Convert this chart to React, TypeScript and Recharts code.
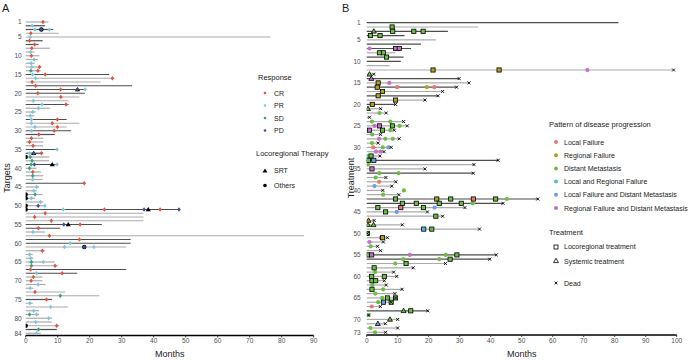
import React from "react";
import { ScatterChart, Scatter, XAxis, YAxis, ReferenceLine } from "recharts";

// ---------- Panel A: targets ----------
// months of follow-up per target (rows 1..84)
const targetEnd = [
  7.1, 6.0, 8.6, 10.3, 76.5, 5.3, 4.0, 7.6, 2.7, 4.3,
  3.8, 2.8, 4.9, 4.7, 26.1, 27.4, 23.4, 33.2, 18.6, 18.5,
  16.8, 13.4, 13.4, 7.6, 3.1, 2.7, 12.8, 16.8, 12.8, 14.2,
  9.1, 5.5, 5.5, 5.5, 9.8, 5.5, 7.4, 7.3, 9.8, 3.4,
  4.8, 5.5, 5.3, 18.3, 4.2, 3.5, 5.3, 2.9, 5.5, 6.0,
  47.9, 36.8, 36.8, 36.8, 23.8, 10.8, 6.0, 87, 32.8, 32.8,
  31.4, 6.1, 2.2, 2.4, 9.1, 10.2, 31.4, 16.1, 5.2, 5.2,
  6.2, 2.4, 12.3, 23.0, 8.2, 2.2, 13.2, 4.2, 4.2, 8.2,
  8.2, 10.5, 9.7, 4.7,
];
// targets drawn with the darker line
const groupTwoTargets = [
  2, 3, 6, 7, 15, 18, 19, 20, 23, 27, 30, 31, 35, 36, 39, 44, 51, 55, 56, 59,
  60, 67, 68, 75, 83,
];
const targetTicks = [1, 5, 10, 15, 20, 25, 30, 35, 40, 45, 50, 55, 60, 65, 70, 75, 80, 84];
const monthTicksA = [0, 10, 20, 30, 40, 50, 60, 70, 80, 90];

// [row, month]
const crPoints: [number, number][] = [
  [1, 5.4], [4, 1.6], [6, 1.2], [7, 2.8], [8, 1.9], [10, 1.8], [13, 4.3], [14, 3.8],
  [15, 6.1], [16, 27.1], [17, 2.0], [18, 3.1], [19, 10.9], [20, 3.8], [21, 11.0],
  [23, 12.6], [27, 9.9], [28, 8.3], [29, 9.9], [30, 8.9], [31, 4.1], [32, 1.8],
  [33, 1.2], [34, 2.3], [36, 4.9], [41, 2.2], [44, 18.3], [51, 24.6], [51, 42.0],
  [52, 6.1], [53, 2.8], [54, 8.0], [55, 17.0], [56, 4.0], [58, 7.4], [59, 16.8],
  [62, 5.2], [66, 9.2], [67, 1.5], [68, 11.4], [69, 2.4], [70, 1.7], [73, 2.9],
  [75, 6.5], [82, 9.7],
];
const prPoints: [number, number][] = [
  [2, 2.0], [3, 2.9], [3, 7.4], [5, 1.4], [9, 1.5], [11, 2.6], [12, 1.7], [13, 1.9],
  [15, 2.2], [16, 3.1], [19, 18.6], [22, 2.4], [23, 5.1], [24, 4.0], [25, 2.2],
  [26, 1.4], [27, 1.8], [28, 1.8], [29, 2.9], [30, 1.8], [35, 9.8], [36, 1.2],
  [39, 9.8], [43, 2.2], [45, 3.4], [46, 2.5], [48, 1.8], [49, 4.6], [50, 6.0],
  [51, 11.7], [57, 2.3], [60, 13.9], [61, 12.1], [61, 21.3], [63, 1.2], [64, 1.6],
  [65, 5.5], [68, 3.4], [71, 3.9], [72, 1.4], [76, 1.3], [77, 7.8], [78, 2.5],
  [79, 3.4], [80, 7.2], [81, 3.1], [84, 3.4],
];
const sdPoints: [number, number][] = [
  [14, 1.6], [37, 1.4], [38, 2.0], [39, 1.7], [40, 1.2], [42, 2.2], [47, 2.9],
  [65, 1.8], [66, 1.8], [74, 10.8], [79, 1.2], [83, 4.0],
];
const pdPoints: [number, number][] = [
  [3, 4.9], [19, 16.1], [36, 2.5], [39, 2.7], [50, 3.9], [51, 37.0], [51, 47.9],
  [55, 11.9], [61, 18.3],
];
const srtPoints: [number, number][] = [
  [19, 16.2], [36, 2.5], [39, 8.3], [51, 38.3], [55, 13.3],
];
const otherTherapyPoints: [number, number][] = [
  [3, 4.9], [37, 0], [47, 0], [48, 0], [50, 0], [51, 0], [61, 18.3], [82, 0],
];

// ---------- Panel B: patients ----------
const patientEnd = [
  81.2, 35.9, 26.2, 12.2, 22.3, 17.5, 14.3, 9.2, 11.9, 11.0,
  7.4, 99, 2.3, 29.8, 33, 29, 24.5, 23, 18.8, 9.3,
  4.5, 6.3, 0.9, 11.9, 13.1, 8.9, 4.5, 10.5, 3.7, 7.9,
  5.6, 4.3, 42.4, 34.6, 18.8, 34.4, 6.2, 9.4, 8.1, 5.2,
  10.4, 55.2, 44, 31.7, 19.6, 24.5, 2.4, 11.5, 36.4, 0.2,
  6.7, 5.4, 3.5, 4.5, 41.8, 39.7, 25.4, 15, 8.7, 9.7,
  5.7, 6.3, 11.4, 9.1, 9.3, 7.9, 4.4, 19.7, 0.6, 10,
  6, 10, 6.1,
];
const patientDead = [
  0, 0, 0, 0, 0, 0, 0, 0, 0, 0,
  0, 1, 1, 1, 1, 1, 1, 1, 1, 1,
  1, 1, 1, 1, 1, 1, 1, 1, 1, 1,
  1, 1, 1, 1, 1, 1, 1, 1, 1, 1,
  1, 1, 1, 1, 1, 1, 1, 1, 1, 1,
  1, 1, 1, 1, 1, 1, 1, 1, 1, 1,
  1, 1, 1, 1, 1, 1, 1, 1, 1, 1,
  1, 1, 1,
];
const groupTwoPatients = [1, 3, 4, 6, 7, 9, 10, 14, 16, 18, 20, 33, 36, 42, 43, 55, 56, 68];
const patientTicks = [1, 5, 10, 15, 20, 25, 30, 35, 40, 45, 50, 55, 60, 65, 70, 73];
const monthTicksB = [0, 10, 20, 30, 40, 50, 60, 70, 80, 90, 100];

// progression events [row, month]
const localFailure: [number, number][] = [[16, 9.8], [16, 21.8], [30, 2.1], [38, 4.0], [67, 1.6]];
const regionalFailure: [number, number][] = [[16, 19.4]];
const distantMetastasis: [number, number][] = [
  [22, 4.1], [24, 1.7], [24, 7.6], [25, 10.6], [26, 7.6], [27, 1.8], [28, 6.0], [28, 8.4],
  [29, 1.7], [30, 5.2], [34, 0.4], [36, 4.1], [36, 10.3], [37, 2.9], [40, 12.0], [41, 5.3],
  [42, 45.2], [43, 34.2], [53, 1.3], [55, 25.5], [56, 11.8], [56, 23.4], [57, 9.2],
  [59, 2.7], [62, 1.8], [63, 5.3], [64, 2.8], [65, 5.0], [66, 3.7], [69, 0.6], [72, 1.2],
  [73, 2.7],
];
const localRegionalFailure: [number, number][] = [[32, 0.2]];
const localDistant: [number, number][] = [[30, 7.0], [39, 2.5], [44, 21.9], [45, 9.7]];
const regionalDistant: [number, number][] = [
  [7, 0.9], [12, 71.2], [15, 7.3], [25, 2.5], [28, 4.0], [31, 3.0], [31, 4.4], [51, 4.6],
  [52, 0.9], [55, 13.9],
];

// treatments [row, month, pattern]
const locoregionalTreatment: [number, number, string][] = [
  [2, 8.2, "DM"], [3, 8.4, "DM"], [3, 15.2, "DM"], [3, 18.2, "DM"], [4, 1.2, "DM"], [4, 4.3, "DM"],
  [7, 9.3, "RFDM"], [7, 10.5, "RFDM"], [8, 4.1, "DM"], [8, 5.4, "DM"], [9, 6.4, "DM"],
  [12, 21.4, "RF"], [12, 42.7, "RF"], [15, 3.7, "RF"], [16, 3.4, "RF"], [17, 5.1, "RF"],
  [18, 3.7, "RF"], [19, 9.3, "RF"], [20, 1.8, "RF"], [25, 4.1, "RFDM"], [25, 8.3, "DM"],
  [26, 0.9, "RFDM"], [26, 5.1, "DM"], [32, 1.4, "DM"], [33, 0.6, "DM"], [33, 2.3, "LFDM"],
  [35, 1.7, "RFDM"], [42, 9.3, "DM"], [42, 22.6, "RF"], [42, 27.1, "DM"], [42, 34.4, "LF"],
  [42, 41.6, "DM"], [43, 11.5, "DM"], [43, 16, "DM"], [43, 23.4, "DM"], [43, 30.5, "DM"],
  [44, 3.6, "DM"], [44, 11, "LF"], [44, 18.3, "DM"], [45, 6.1, "DM"], [46, 22.3, "DM"],
  [49, 18.4, "LRF"], [49, 21, "DM"], [50, 0.2, "DM"], [51, 5.1, "RF"], [55, 0.4, "DM"],
  [55, 1.6, "RFDM"], [55, 29.1, "DM"], [56, 26.9, "DM"], [57, 12.7, "DM"], [58, 2.4, "DM"],
  [60, 1.6, "DM"], [60, 5.7, "DM"], [61, 1.7, "DM"], [61, 2.9, "DM"], [63, 1.7, "DM"],
  [65, 6.7, "DM"], [65, 9.3, "DM"], [66, 5.4, "LFDM"], [66, 7.9, "DM"], [68, 14.2, "DM"],
];
const systemicTreatment: [number, number, string][] = [
  [3, 2.3, "DM"], [13, 0.9, "DM"], [14, 1.5, "RFDM"], [21, 0.4, "DM"], [47, 0.6, "RF"],
  [48, 0.4, "DM"], [48, 2.2, "DM"], [68, 11.9, "DM"], [70, 7.5, "DM"], [71, 3.6, "LFDM"],
];

const RESP = { CR: "#E0533F", PR: "#7EC6DE", SD: "#3E9E80", PD: "#3D4F8E" };
const PAT: Record<string, string> = {
  LF: "#E8776E",
  RF: "#B3A01E",
  DM: "#6BBE45",
  LRF: "#4FC0C4",
  LFDM: "#6F9BEA",
  RFDM: "#C46FCB",
};
const LIGHT = "#ABABAB";
const DARK = "#4D4D4D";
const FONT = "'Liberation Sans', Arial, sans-serif";

const pts = (a: [number, number][]) => a.map(([row, m]) => ({ x: m, y: row }));
const pts3 = (a: [number, number, string][]) => a.map(([row, m, c]) => ({ x: m, y: row, c }));

const diamond = (color: string) => (p: any) => (
  <path
    d={`M${p.cx},${p.cy - 2.3}L${p.cx + 1.8},${p.cy}L${p.cx},${p.cy + 2.3}L${p.cx - 1.8},${p.cy}Z`}
    fill={color}
  />
);
const blackTriangle = (p: any) => (
  <path d={`M${p.cx},${p.cy - 2.6}L${p.cx + 2.6},${p.cy + 1.8}L${p.cx - 2.6},${p.cy + 1.8}Z`} fill="#000" />
);
const blackDot = (p: any) => <circle cx={p.cx} cy={p.cy} r={2.2} fill="#000" />;
const dot = (color: string) => (p: any) => <circle cx={p.cx} cy={p.cy} r={2.1} fill={color} />;
const square = (p: any) => (
  <rect x={p.cx - 2.1} y={p.cy - 2.1} width={4.2} height={4.2} fill={PAT[p.payload.c]} stroke="#000" strokeWidth={0.8} />
);
const triangle = (p: any) => (
  <path
    d={`M${p.cx},${p.cy - 2.6}L${p.cx + 2.5},${p.cy + 1.8}L${p.cx - 2.5},${p.cy + 1.8}Z`}
    fill={PAT[p.payload.c]}
    stroke="#000"
    strokeWidth={0.8}
  />
);
const cross = (p: any) => (
  <path
    d={`M${p.cx - 1.5},${p.cy - 1.5}L${p.cx + 1.5},${p.cy + 1.5}M${p.cx - 1.5},${p.cy + 1.5}L${p.cx + 1.5},${p.cy - 1.5}`}
    stroke="#000"
    strokeWidth={0.9}
  />
);

const tickStyle = { fontSize: 6.5, fill: "#4D4D4D", fontFamily: FONT };

function PanelA() {
  return (
    <ScatterChart width={345} height={360} margin={{ top: 19.75, right: 31.3, bottom: 0, left: 0 }}>
      <XAxis
        type="number"
        dataKey="x"
        domain={[0, 90]}
        ticks={monthTicksA}
        interval={0}
        height={24.5}
        tick={tickStyle}
        tickSize={2}
        tickMargin={1}
        axisLine={{ stroke: "#000", strokeWidth: 1.5 }}
        tickLine={{ stroke: "#333" }}
        allowDataOverflow
      />
      <YAxis
        type="number"
        dataKey="y"
        domain={[0.4, 84.6]}
        reversed
        ticks={targetTicks}
        interval={0}
        width={25.7}
        tick={tickStyle}
        axisLine={false}
        tickLine={false}
        tickSize={2}
        tickMargin={2}
        allowDataOverflow
      />
      {targetEnd.map((end, i) => (
        <ReferenceLine
          key={i}
          segment={[{ x: 0, y: i + 1 }, { x: end, y: i + 1 }]}
          stroke={groupTwoTargets.includes(i + 1) ? DARK : LIGHT}
          strokeWidth={1.2}
        />
      ))}
      <Scatter data={pts(srtPoints)} shape={blackTriangle} isAnimationActive={false} />
      <Scatter data={pts(otherTherapyPoints)} shape={blackDot} isAnimationActive={false} />
      <Scatter data={pts(crPoints)} shape={diamond(RESP.CR)} isAnimationActive={false} />
      <Scatter data={pts(prPoints)} shape={diamond(RESP.PR)} isAnimationActive={false} />
      <Scatter data={pts(sdPoints)} shape={diamond(RESP.SD)} isAnimationActive={false} />
      <Scatter data={pts(pdPoints)} shape={diamond(RESP.PD)} isAnimationActive={false} />
    </ScatterChart>
  );
}

function PanelB() {
  return (
    <ScatterChart width={351} height={360} margin={{ top: 20.1, right: 14.3, bottom: 0, left: 0 }}>
      <XAxis
        type="number"
        dataKey="x"
        domain={[0, 100]}
        ticks={monthTicksB}
        interval={0}
        height={25.1}
        tick={tickStyle}
        tickSize={2}
        tickMargin={1}
        axisLine={{ stroke: "#000", strokeWidth: 1.5 }}
        tickLine={{ stroke: "#333" }}
        allowDataOverflow
      />
      <YAxis
        type="number"
        dataKey="y"
        domain={[0.4, 73.6]}
        reversed
        ticks={patientTicks}
        interval={0}
        width={26.7}
        tick={tickStyle}
        axisLine={false}
        tickLine={false}
        tickSize={3}
        tickMargin={3}
        allowDataOverflow
      />
      {patientEnd.map((end, i) => (
        <ReferenceLine
          key={i}
          segment={[{ x: 0, y: i + 1 }, { x: end, y: i + 1 }]}
          stroke={groupTwoPatients.includes(i + 1) ? DARK : LIGHT}
          strokeWidth={1.2}
        />
      ))}
      <Scatter data={pts(localFailure)} shape={dot(PAT.LF)} isAnimationActive={false} />
      <Scatter data={pts(regionalFailure)} shape={dot(PAT.RF)} isAnimationActive={false} />
      <Scatter data={pts(distantMetastasis)} shape={dot(PAT.DM)} isAnimationActive={false} />
      <Scatter data={pts(localRegionalFailure)} shape={dot(PAT.LRF)} isAnimationActive={false} />
      <Scatter data={pts(localDistant)} shape={dot(PAT.LFDM)} isAnimationActive={false} />
      <Scatter data={pts(regionalDistant)} shape={dot(PAT.RFDM)} isAnimationActive={false} />
      <Scatter data={pts3(locoregionalTreatment)} shape={square} isAnimationActive={false} />
      <Scatter data={pts3(systemicTreatment)} shape={triangle} isAnimationActive={false} />
      <Scatter
        data={patientEnd.map((end, i) => ({ x: end, y: i + 1 })).filter((_, i) => patientDead[i] === 1)}
        shape={cross}
        isAnimationActive={false}
      />
    </ScatterChart>
  );
}

function Overlay() {
  const t = { fontFamily: FONT, fill: "#1A1A1A" };
  const respItems: [string, string, number][] = [
    ["CR", RESP.CR, 93],
    ["PR", RESP.PR, 105.5],
    ["SD", RESP.SD, 118],
    ["PD", RESP.PD, 130.5],
  ];
  const patItems: [string, string, number][] = [
    ["Local Failure", PAT.LF, 142],
    ["Regional Failure", PAT.RF, 155.2],
    ["Distant Metastasis", PAT.DM, 168.4],
    ["Local and Regional Failure", PAT.LRF, 181.6],
    ["Local Failure and Distant Metastasis", PAT.LFDM, 194.8],
    ["Regional Failure and Distant Metastasis", PAT.RFDM, 208],
  ];
  return (
    <svg width={691} height={360} style={{ position: "absolute", left: 0, top: 0, pointerEvents: "none" }}>
      <text x={2} y={12} fontSize={11} {...t}>A</text>
      <text x={342} y={12} fontSize={11} {...t}>B</text>
      <text x={0} y={0} fontSize={9} {...t} textAnchor="middle" transform="translate(10,178) rotate(-90)">Targets</text>
      <text x={0} y={0} fontSize={9} {...t} textAnchor="middle" transform="translate(354,178) rotate(-90)">Treatment</text>
      <text x={169.7} y={357} fontSize={9} {...t} textAnchor="middle">Months</text>
      <text x={521.7} y={357} fontSize={9} {...t} textAnchor="middle">Months</text>

      <text x={258} y={80} fontSize={7.5} {...t}>Response</text>
      {respItems.map(([lab, col, y]) => (
        <g key={lab}>
          <circle cx={265} cy={y} r={1.3} fill={col} />
          <text x={274} y={y + 2.5} fontSize={7} {...t}>{lab}</text>
        </g>
      ))}
      <text x={256} y={156} fontSize={7.5} {...t}>Locoregional Therapy</text>
      <path d="M265,168.5L267.5,172.5L262.5,172.5Z" fill="#000" />
      <text x={274} y={173} fontSize={7} {...t}>SRT</text>
      <circle cx={265} cy={185.5} r={1.8} fill="#000" />
      <text x={274} y={188} fontSize={7} {...t}>Others</text>

      <text x={549} y={126.5} fontSize={7.5} {...t}>Pattern of disease progression</text>
      {patItems.map(([lab, col, y]) => (
        <g key={lab}>
          <circle cx={556} cy={y} r={2} fill={col} />
          <text x={564} y={y + 2.5} fontSize={7} {...t}>{lab}</text>
        </g>
      ))}
      <text x={549} y={235} fontSize={7.5} {...t}>Treatment</text>
      <rect x={554} y={245} width={4} height={4} fill="none" stroke="#000" strokeWidth={0.8} />
      <text x={564} y={249} fontSize={7} {...t}>Locoregional treatment</text>
      <path d="M556,258.3L558.4,262.6L553.6,262.6Z" fill="none" stroke="#000" strokeWidth={0.8} />
      <text x={564} y={263.5} fontSize={7} {...t}>Systemic treatment</text>
      <path d="M554.6,281.6L557.4,284.4M554.6,284.4L557.4,281.6" stroke="#000" strokeWidth={0.9} />
      <text x={564} y={285.5} fontSize={7} {...t}>Dead</text>
    </svg>
  );
}

export default function App() {
  return (
    <div style={{ position: "absolute", left: 0, top: 0, width: 691, height: 360, background: "#fff" }}>
      <div style={{ position: "absolute", left: 0, top: 0 }}>
        <PanelA />
      </div>
      <div style={{ position: "absolute", left: 340, top: 0 }}>
        <PanelB />
      </div>
      <Overlay />
    </div>
  );
}
